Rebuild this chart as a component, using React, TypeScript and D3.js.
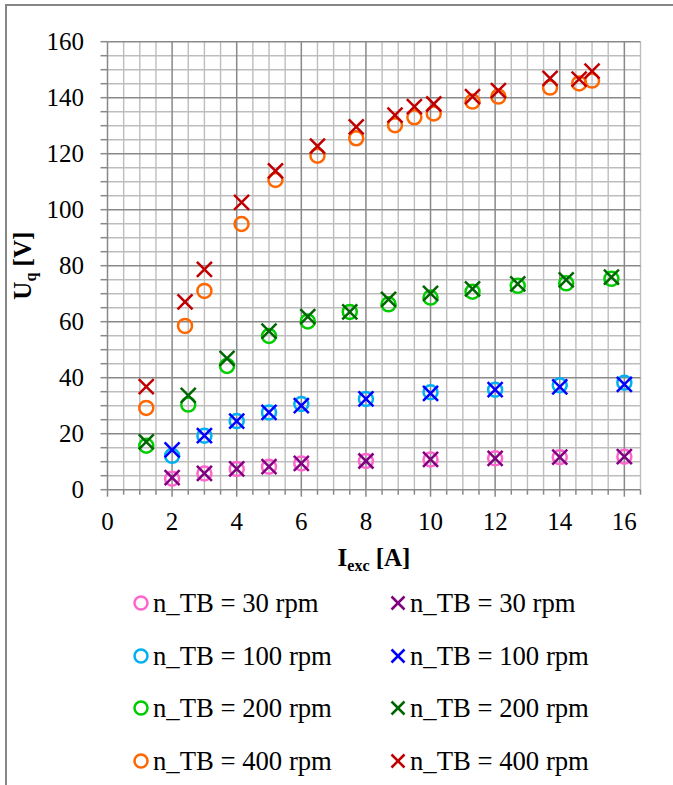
import React from "react";
import * as d3 from "d3";

const xTicks = [0, 2, 4, 6, 8, 10, 12, 14, 16];
const yTicks = [0, 20, 40, 60, 80, 100, 120, 140, 160];

const iExc30 = [2, 3, 4, 5, 6, 8, 10, 12, 14, 16];
const circle30 = [3.9, 5.8, 7.4, 8.2, 9.4, 10.25, 10.8, 11.2, 11.6, 11.8];
const cross30 = [4.3, 5.8, 7.4, 8.2, 9.4, 10.25, 10.8, 11.2, 11.6, 11.8];

const iExc100 = [2, 3, 4, 5, 6, 8, 10, 12, 14, 16];
const circle100 = [12.1, 19.3, 24.5, 27.6, 30.6, 32.4, 34.8, 35.7, 37.3, 38.2];
const cross100 = [14.2, 19.3, 24.5, 27.6, 30.0, 32.4, 34.4, 35.7, 36.7, 37.6];

const iExc200 = [1.2, 2.5, 3.7, 5.0, 6.2, 7.5, 8.7, 10.0, 11.3, 12.7, 14.2, 15.6];
const circle200 = [15.7, 30.4, 44.2, 54.9, 60.1, 63.5, 66.2, 68.6, 70.7, 72.8, 73.7, 75.3];
const cross200 = [17.1, 33.7, 46.9, 56.6, 61.8, 63.5, 68.0, 70.1, 71.7, 73.5, 74.9, 75.9];

const iExc400 = [1.2, 2.4, 3.0, 4.15, 5.2, 6.5, 7.7, 8.9, 9.5, 10.1, 11.3, 12.1, 13.7, 14.6, 15.0];
const circle400 = [29.2, 58.5, 71.0, 94.9, 110.6, 119.3, 125.5, 130.2, 133.0, 134.4, 138.6, 140.4, 143.6, 145.1, 146.1];
const cross400 = [36.8, 67.1, 78.7, 102.6, 113.9, 122.7, 129.6, 133.8, 136.8, 137.75, 140.4, 142.5, 146.9, 146.6, 149.5];

const seriesLabels = ["n_TB = 30 rpm", "n_TB = 100 rpm", "n_TB = 200 rpm", "n_TB = 400 rpm"];

type Series = { label: string; xs: number[]; ys: number[]; kind: "circle" | "cross"; color: string };

const series: Series[] = [
  { label: seriesLabels[0], xs: iExc30, ys: circle30, kind: "circle", color: "#FF66CC" },
  { label: seriesLabels[0], xs: iExc30, ys: cross30, kind: "cross", color: "#800080" },
  { label: seriesLabels[1], xs: iExc100, ys: circle100, kind: "circle", color: "#00B0F0" },
  { label: seriesLabels[1], xs: iExc100, ys: cross100, kind: "cross", color: "#0000FF" },
  { label: seriesLabels[2], xs: iExc200, ys: circle200, kind: "circle", color: "#00CC00" },
  { label: seriesLabels[2], xs: iExc200, ys: cross200, kind: "cross", color: "#006600" },
  { label: seriesLabels[3], xs: iExc400, ys: circle400, kind: "circle", color: "#FF6600" },
  { label: seriesLabels[3], xs: iExc400, ys: cross400, kind: "cross", color: "#C00000" },
];

const FONT = "Liberation Serif, Tinos, Times New Roman, DejaVu Serif";

function Marker({ kind, color, x, y, r, w }: { kind: string; color: string; x: number; y: number; r: number; w: number }) {
  if (kind === "circle") {
    return <circle cx={x} cy={y} r={r} fill="none" stroke={color} strokeWidth={w} />;
  }
  return (
    <g stroke={color} strokeWidth={w} strokeLinecap="butt">
      <line x1={x - r} y1={y - r} x2={x + r} y2={y + r} />
      <line x1={x - r} y1={y + r} x2={x + r} y2={y - r} />
    </g>
  );
}

export default function App() {
  const W = 673;
  const H = 785;
  const x = d3.scaleLinear().domain([0, 16.5]).range([107.5, 640.5]);
  const y = d3.scaleLinear().domain([0, 160]).range([489.7, 41.7]);

  const xMinor = d3.range(0, 16.5 + 1e-9, 0.5);
  const yMinor = d3.range(0, 160 + 1e-9, 5);

  const legendRowY = [603, 656, 708, 761];
  const legendColX = [141, 398];

  return (
    <svg width={W} height={H} style={{ position: "absolute", left: 0, top: 0, fontFamily: FONT }}>
      <rect x={0} y={0} width={W} height={H} fill="#fff" />
      <rect x={6} y={5} width={W + 20} height={H + 20} fill="none" stroke="#868686" strokeWidth={2} />

      <g stroke="#BDBDBD" strokeWidth={1.4}>
        {xMinor.filter((v) => v % 2 !== 0).map((v) => (
          <line key={"xm" + v} x1={x(v)} x2={x(v)} y1={y(160)} y2={y(0)} />
        ))}
        {yMinor.filter((v) => v % 20 !== 0).map((v) => (
          <line key={"ym" + v} x1={x(0)} x2={x(16.5)} y1={y(v)} y2={y(v)} />
        ))}
      </g>
      <g stroke="#898989" strokeWidth={1.5}>
        {xTicks.map((v) => (
          <line key={"xM" + v} x1={x(v)} x2={x(v)} y1={y(160)} y2={y(0)} />
        ))}
        {yTicks.map((v) => (
          <line key={"yM" + v} x1={x(0)} x2={x(16.5)} y1={y(v)} y2={y(v)} />
        ))}
      </g>
      <g stroke="#898989" strokeWidth={1.5}>
        {yMinor.map((v) => (
          <line key={"yt" + v} x1={x(0) - 7} x2={x(0)} y1={y(v)} y2={y(v)} />
        ))}
        {xMinor.map((v) => (
          <line key={"xt" + v} x1={x(v)} x2={x(v)} y1={y(0)} y2={y(0) + (v % 2 === 0 ? 7 : 5)} />
        ))}
      </g>

      <g fontSize={25} fill="#000">
        {yTicks.map((v) => (
          <text key={"yl" + v} x={84} y={y(v) + 8.5} textAnchor="end">
            {v}
          </text>
        ))}
        {xTicks.map((v) => (
          <text key={"xl" + v} x={x(v)} y={530} textAnchor="middle">
            {v}
          </text>
        ))}
      </g>

      <text x={x(8.25)} y={566} textAnchor="middle" fontSize={25} fontWeight="bold">
        I<tspan fontSize={16} dy={5}>exc</tspan>
        <tspan dy={-5}> [A]</tspan>
      </text>
      <text transform={`translate(31, ${y(80)}) rotate(-90)`} textAnchor="middle" fontSize={25} fontWeight="bold">
        U<tspan fontSize={16} dy={5}>q</tspan>
        <tspan dy={-5}> [V]</tspan>
      </text>

      {series.map((s, si) => (
        <g key={"s" + si}>
          {s.xs.map((xv, i) => (
            <Marker key={i} kind={s.kind} color={s.color} x={x(xv)} y={y(s.ys[i])} r={s.kind === "circle" ? 7 : 7.5} w={2.5} />
          ))}
        </g>
      ))}

      {series.map((s, si) => {
        const row = Math.floor(si / 2);
        const col = si % 2;
        const lx = legendColX[col];
        const ly = legendRowY[row];
        return (
          <g key={"lg" + si}>
            <Marker kind={s.kind} color={s.color} x={lx} y={ly} r={6.5} w={2.5} />
            <text x={lx + 12} y={ly + 9} fontSize={26.7} fill="#000">
              {s.label}
            </text>
          </g>
        );
      })}
    </svg>
  );
}
